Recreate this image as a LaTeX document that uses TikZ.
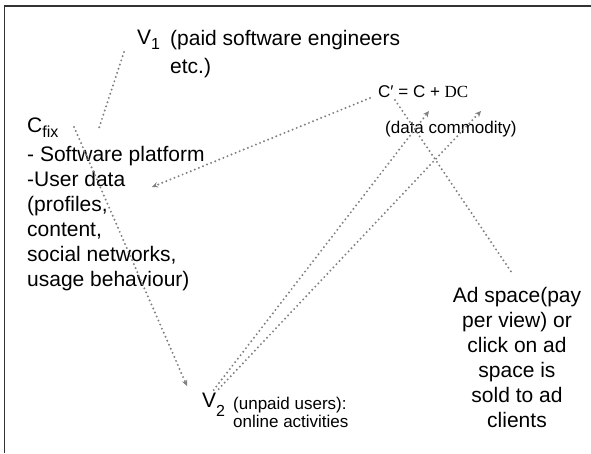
\documentclass[tikz,border=0pt]{standalone}
\usepackage{fontspec}
\setmainfont{Liberation Sans}
\newfontfamily\serifface{Liberation Serif}
\usetikzlibrary{arrows.meta}
\newcommand{\lowidx}[2][5pt]{\raisebox{-#1}{\fontsize{16}{16}\selectfont #2}}

\begin{document}
\begin{tikzpicture}[
        x=1pt, y=-1pt, % unidades de pixel, y hacia abajo
        bigtext/.style={font=\fontsize{21}{25}\selectfont, inner sep=0pt}, % texto grande
        smalltext/.style={font=\fontsize{17}{18}\selectfont, inner sep=0pt}, % texto chico
        link/.style={draw=black!50, line width=2.2pt, line cap=round, dash pattern=on 0pt off 4.4pt}, % linea punteada
        flow/.style={link, -{Stealth[length=6pt,width=5.5pt]}}, % flecha punteada
        frame/.style={draw=black!80, line width=1.4pt}
    ]
    \useasboundingbox (0,0) rectangle (591,453);

    % --- Marco ---
    \draw[frame] (4.5,453) |- (591,6);

    % --- Textos ---
    \node[bigtext, anchor=north west] (v1) at (137,30) {V\lowidx{1}};
    \node[bigtext, anchor=north west, align=left] (v1note) at (170,30) {(paid software engineers\\[3pt] etc.)};
    \node[bigtext, anchor=north west, align=left] (cfix) at (27,118)
        {C\lowidx{fix}\\[4pt] - Software platform\\ -User data\\ (profiles,\\ content,\\ social networks,\\ usage behaviour)};
    \node[smalltext, anchor=base west] (cprime) at (378,97) {C\char"2032{} = C + {\serifface DC}};
    \node[smalltext, anchor=base west] (commodity) at (385,133) {(data commodity)};
    \node[bigtext, anchor=north west] (v2) at (202,393) {V\lowidx[9pt]{2}};
    \node[smalltext, anchor=north west, align=left] (v2note) at (233,397) {(unpaid users):\\ online activities};
    \node[bigtext, anchor=north, align=center] (adspace) at (517,287)
        {Ad space(pay\\ per view) or\\ click on ad\\ space is\\ sold to ad\\ clients};

    % --- Extremos de las lineas ---
    \coordinate (v1foot) at (124,52);
    \coordinate (cfixtop) at (98,131);
    \coordinate (cfixstart) at (74,127);
    \coordinate (v2tip) at (187,386);
    \coordinate (cprimeleft) at (370,98);
    \coordinate (datatip) at (152,187);
    \coordinate (ctip) at (429,111);
    \coordinate (ctipb) at (481,111);
    \coordinate (cprimefoot) at (395,100);
    \coordinate (adtop) at (512,273);

    % --- Conexiones ---
    \draw[link] (v1foot) -- (cfixtop);
    \draw[flow] (cfixstart) -- (v2tip);
    \draw[flow] (cprimeleft) -- (datatip);
    \draw[flow] ([yshift=3pt]v2.north) -- (ctip);
    \draw[flow] ([xshift=5pt,yshift=4pt]v2.north) -- (ctipb);
    \draw[link] (cprimefoot) -- (adtop);
\end{tikzpicture}
\end{document}
